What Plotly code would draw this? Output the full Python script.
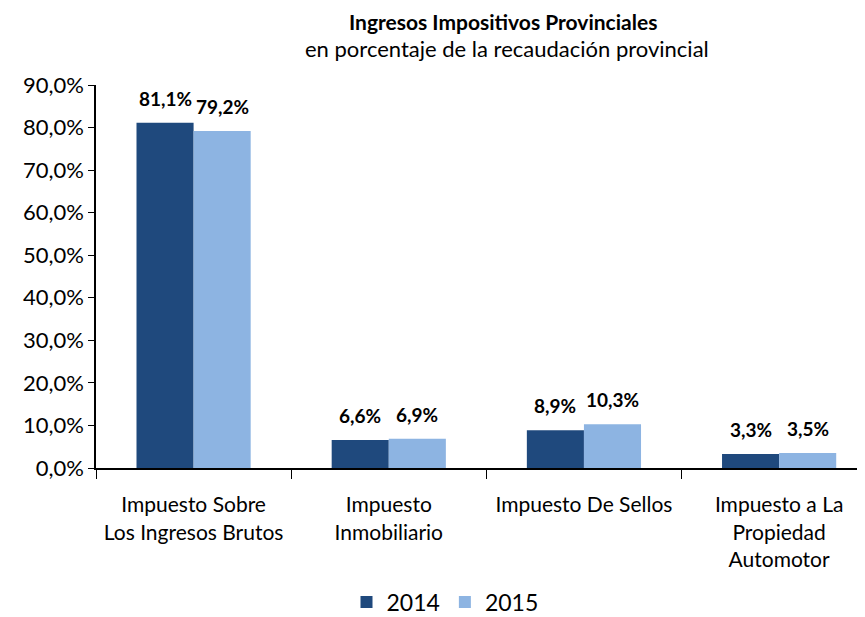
import plotly.graph_objects as go

categories = [
    "Impuesto Sobre<br>Los Ingresos Brutos",
    "Impuesto<br>Inmobiliario",
    "Impuesto De Sellos",
    "Impuesto a La<br>Propiedad<br>Automotor",
]
values_2014 = [81.1, 6.6, 8.9, 3.3]
values_2015 = [79.2, 6.9, 10.3, 3.5]
y_ticks = [0, 10, 20, 30, 40, 50, 60, 70, 80, 90]
y_tick_text = [f"{v:.1f}%".replace(".", ",") for v in y_ticks]

FONT = "Liberation Sans Narrow, Lato, sans-serif"

# the page body adds an 8px offset, so the figure is a bit smaller than the window
W, H = 857, 609
L, T, B = 88, 77, 149
plot_w = W - L
plot_h = H - T - B
BAR_PX = 57  # approx width of one bar in pixels, used to centre the value labels


def px_to_paper(x, y):
    return (x - 8 - L) / plot_w, (H - B - (y - 8)) / plot_h


fig = go.Figure()
series = [
    ("2014", values_2014, "#1F497D", -BAR_PX / 2),
    ("2015", values_2015, "#8DB4E2", BAR_PX / 2),
]
for name, vals, color, _ in series:
    fig.add_trace(go.Bar(
        name=name,
        x=categories,
        y=vals,
        marker=dict(color=color, line=dict(width=0)),
    ))

# value labels above the bars
for _, vals, _, shift in series:
    for cat, v in zip(categories, vals):
        fig.add_annotation(
            x=cat, y=v, xref="x", yref="y",
            text=f"<b>{v:.1f}%</b>".replace(".", ","),
            showarrow=False, xshift=shift, yshift=11, yanchor="bottom",
            font=dict(size=19),
        )

tx, ty = px_to_paper(503, 22)
sx, sy = px_to_paper(507, 49)
lx, _ = px_to_paper(445, 602)

fig.add_annotation(text="<b>Ingresos Impositivos Provinciales</b>", x=tx, y=ty,
                   xref="paper", yref="paper", yanchor="middle", showarrow=False,
                   font=dict(size=21))
fig.add_annotation(text="en porcentaje de la recaudación provincial", x=sx, y=sy,
                   xref="paper", yref="paper", yanchor="middle", showarrow=False,
                   font=dict(size=22))

fig.update_layout(
    width=W,
    height=H,
    paper_bgcolor="white",
    plot_bgcolor="white",
    separators=",.",
    barmode="group",
    bargap=0.415,
    bargroupgap=0,
    margin=dict(l=L, r=0, t=T, b=B, autoexpand=False),
    font=dict(family=FONT, size=20, color="black"),
    showlegend=True,
    legend=dict(
        orientation="h",
        x=lx, xanchor="center", xref="paper",
        y=1 - (602 - 8) / H, yanchor="middle", yref="container",
        font=dict(size=23),
        itemwidth=30,
    ),
)

fig.update_yaxes(
    range=[0, 90],
    tickvals=y_ticks,
    ticktext=y_tick_text,
    showgrid=False,
    showline=True,
    linecolor="black",
    linewidth=1.5,
    ticks="outside",
    ticklen=6,
    tickcolor="black",
    tickfont=dict(size=22),
    zeroline=False,
    automargin=False,
)
fig.update_xaxes(
    range=[-0.5, 3.44],
    showline=True,
    linecolor="black",
    linewidth=2,
    ticks="outside",
    tickson="boundaries",
    ticklen=9,
    tickcolor="black",
    tickfont=dict(size=21),
    tickangle=0,
    ticklabelstandoff=17,
    automargin=False,
)

fig.write_html("out.html")
